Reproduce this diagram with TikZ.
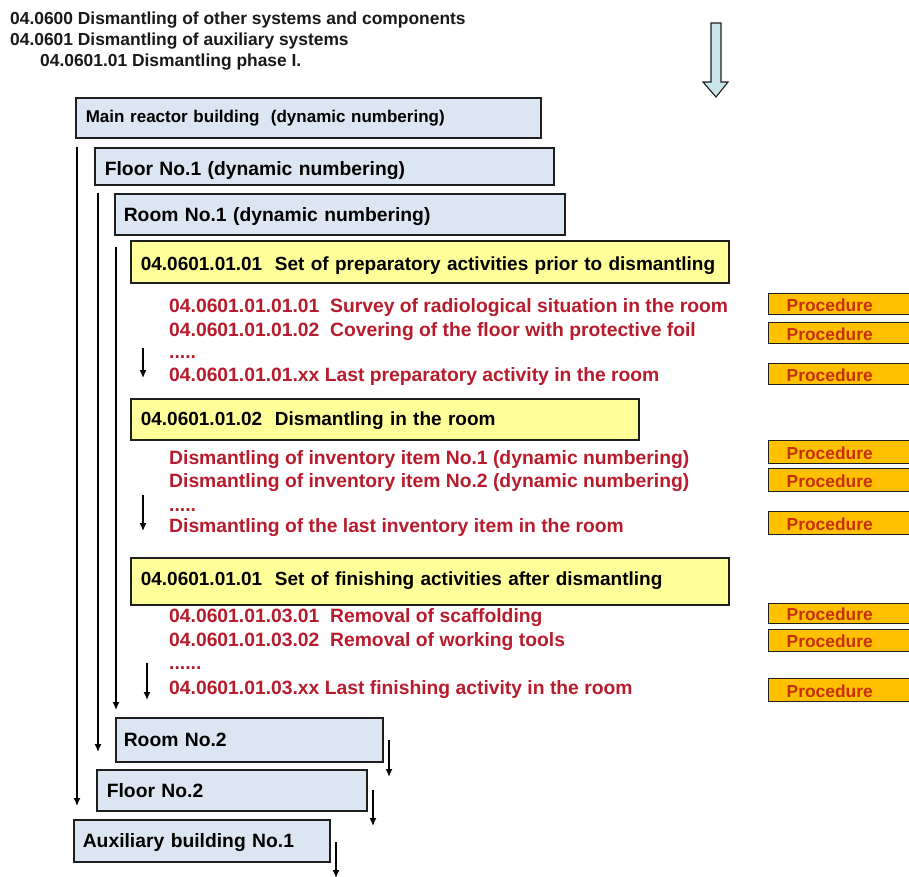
\documentclass[tikz,border=0pt]{standalone}
\usepackage{fontspec}
\setmainfont{Liberation Sans}
\usetikzlibrary{arrows.meta}
\definecolor{bluefill}{HTML}{DCE6F2}
\definecolor{yelfill}{HTML}{FFFF99}
\definecolor{procfill}{HTML}{FFC000}
\definecolor{proctext}{HTML}{C8300A}
\definecolor{redtext}{HTML}{B81C2C}
\definecolor{edgecol}{HTML}{1E1E1E}
\definecolor{arrowfill}{HTML}{C9E7EA}
\begin{document}
\begin{tikzpicture}[x=1pt,y=1pt,
  hdr/.style={anchor=base west, inner sep=0pt, text=black!90, font=\fontsize{17.4}{20}\selectfont\bfseries},
  boxbase/.style={draw=edgecol, line width=1.6pt, anchor=north west, inner xsep=10pt, inner ysep=0pt, align=left, font=\fontsize{19.3}{22}\selectfont\bfseries},
  bluebox/.style={boxbase, fill=bluefill},
  yelbox/.style={boxbase, fill=yelfill, font=\fontsize{19.0}{22}\selectfont\bfseries},
  redline/.style={anchor=base west, inner sep=0pt, text=redtext, font=\fontsize{19.3}{22}\selectfont\bfseries},
  procbox/.style={draw=edgecol, line width=1.4pt, fill=procfill, anchor=north west, inner xsep=18pt, inner ysep=0pt, text width=108pt, align=left, text=proctext, font=\fontsize{17.4}{20}\selectfont\bfseries},
  flow/.style={line width=1.4pt, -{Latex[length=8pt,width=7pt]}},
]
\useasboundingbox[fill=white] (0,0) rectangle (909,-876);

% header
\node[hdr] (h1) at (10,-24) {04.0600 Dismantling of other systems and components};
\node[hdr] (h2) at (10,-45) {04.0601 Dismantling of auxiliary systems};
\node[hdr] (h3) at (40,-66) {04.0601.01 Dismantling phase I.};

% big arrow
\draw[draw=edgecol, line width=1.1pt, fill=arrowfill, line join=miter]
  (711,-23) -- (721,-23) -- (721,-82) -- (728,-82) -- (716,-97) -- (703,-82) -- (711,-82) -- cycle;

% blue boxes
\node[bluebox, text width=445pt, text height=25pt, text depth=15pt, font=\fontsize{17}{20}\selectfont\bfseries] (main) at (75,-97) {\mbox{Main reactor building\ \ (dynamic numbering)}};
\node[bluebox, text width=439pt, text height=28pt, text depth=9pt] (floor1) at (94,-147) {\mbox{Floor No.1 (dynamic numbering)}};
\node[bluebox, text width=432pt, text height=28pt, text depth=13pt, inner xsep=9pt] (room1) at (114,-193) {\mbox{Room No.1 (dynamic numbering)}};

% yellow boxes
\node[yelbox, text width=578pt, text height=30pt, text depth=12pt] (y1) at (130,-240) {\mbox{04.0601.01.01\ \ Set of preparatory activities prior to dismantling}};
\node[yelbox, text width=488pt, text height=27pt, text depth=14pt] (y2) at (130,-398) {\mbox{04.0601.01.02\ \ Dismantling in the room}};
\node[yelbox, text width=578pt, text height=28pt, text depth=19pt] (y3) at (130,-557) {\mbox{04.0601.01.01\ \ Set of finishing activities after dismantling}};

% red lines section 1
\node[redline] (t11) at (169,-312) {04.0601.01.01.01\ \ Survey of radiological situation in the room};
\node[redline] (t12) at (169,-336) {04.0601.01.01.02\ \ Covering of the floor with protective foil};
\node[redline] (t13) at (169,-358) {.....};
\node[redline] (t14) at (169,-381) {04.0601.01.01.xx Last preparatory activity in the room};

% red lines section 2
\node[redline] (t21) at (169,-464) {Dismantling of inventory item No.1 (dynamic numbering)};
\node[redline] (t22) at (169,-487) {Dismantling of inventory item No.2 (dynamic numbering)};
\node[redline] (t23) at (169,-511) {.....};
\node[redline] (t24) at (169,-532) {Dismantling of the last inventory item in the room};

% red lines section 3
\node[redline] (t31) at (169,-622) {04.0601.01.03.01\ \ Removal of scaffolding};
\node[redline] (t32) at (169,-646) {04.0601.01.03.02\ \ Removal of working tools};
\node[redline] (t33) at (169,-669) {......};
\node[redline] (t34) at (169,-694) {04.0601.01.03.xx Last finishing activity in the room};

% procedure boxes
\node[procbox, text height=18pt, text depth=3pt] (p1) at (768,-293) {Procedure};
\node[procbox, text height=18pt, text depth=3pt] (p2) at (768,-322) {Procedure};
\node[procbox, text height=18pt, text depth=3pt] (p3) at (768,-363) {Procedure};
\node[procbox, text height=19pt, text depth=4pt] (p4) at (768,-440) {Procedure};
\node[procbox, text height=19pt, text depth=4pt] (p5) at (768,-468) {Procedure};
\node[procbox, text height=19pt, text depth=4pt] (p6) at (768,-511) {Procedure};
\node[procbox, text height=17pt, text depth=3pt] (p7) at (768,-603) {Procedure};
\node[procbox, text height=18pt, text depth=4pt] (p8) at (768,-629) {Procedure};
\node[procbox, text height=19pt, text depth=4pt] (p9) at (768,-678) {Procedure};

% lower blue boxes
\node[bluebox, text width=251pt, text height=29pt, text depth=15pt, inner xsep=8pt] (room2) at (115,-717) {\mbox{Room No.2}};
\node[bluebox, text width=250pt, text height=28pt, text depth=13pt] (floor2) at (96,-769) {\mbox{Floor No.2}};
\node[bluebox, text width=238pt, text height=28pt, text depth=14pt, inner xsep=9pt] (aux1) at (73,-819) {\mbox{Auxiliary building No.1}};

% connector end points
\coordinate (v1s) at (77,-147);  \coordinate (v1e) at (77,-806);
\coordinate (v2s) at (98,-193);  \coordinate (v2e) at (98,-752);
\coordinate (v3s) at (116,-247); \coordinate (v3e) at (116,-710);
\coordinate (s1s) at (143,-348); \coordinate (s1e) at (143,-378);
\coordinate (s2s) at (143,-495); \coordinate (s2e) at (143,-531);
\coordinate (s3s) at (147,-663); \coordinate (s3e) at (147,-700);
\coordinate (r1s) at (389,-740); \coordinate (r1e) at (389,-777);
\coordinate (r2s) at (373,-790); \coordinate (r2e) at (373,-826);
\coordinate (r3s) at (336,-842); \coordinate (r3e) at (336,-878);

\draw[flow] (v1s) -- (v1e);
\draw[flow] (v2s) -- (v2e);
\draw[flow] (v3s) -- (v3e);
\draw[flow] (s1s) -- (s1e);
\draw[flow] (s2s) -- (s2e);
\draw[flow] (s3s) -- (s3e);
\draw[flow] (r1s) -- (r1e);
\draw[flow] (r2s) -- (r2e);
\draw[flow] (r3s) -- (r3e);
\end{tikzpicture}
\end{document}
